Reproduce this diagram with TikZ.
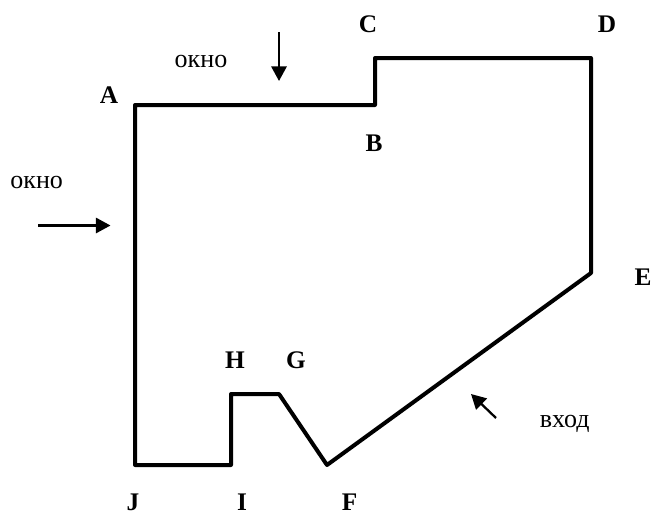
\documentclass[tikz,border=0pt]{standalone}
\usepackage{fontspec}
\setmainfont{Liberation Serif}
\usetikzlibrary{arrows.meta}
\tikzset{
 wall/.style={line width=3pt,line join=round,line cap=round},
 pt/.style={font=\bfseries\fontsize{19}{22}\selectfont,inner sep=0pt,anchor=base},
 lab/.style={font=\fontsize{19.5}{22}\selectfont,inner sep=0pt,anchor=base},
 arr/.style={line width=1.7pt,-{Triangle[length=11pt,width=11.5pt]}}
}
\begin{document}
\begin{tikzpicture}[x=0.75pt,y=-0.75pt]
\useasboundingbox (0,0) rectangle (654,514);
\coordinate (pA) at (135,105);
\coordinate (pB) at (375,105);
\coordinate (pC) at (375,58);
\coordinate (pD) at (591,58);
\coordinate (pE) at (591,273);
\coordinate (pF) at (327,465);
\coordinate (pG) at (279,394);
\coordinate (pH) at (231,394);
\coordinate (pI) at (231,465);
\coordinate (pJ) at (135,465);
\draw[wall] (pA)--(pB)--(pC)--(pD)--(pE)--(pF)--(pG)--(pH)--(pI)--(pJ)--cycle;
\node[pt] (A) at (109,103) {A};
\node[pt] (B) at (374,151) {B};
\node[pt] (C) at (368,32.5) {C};
\node[pt] (D) at (607,32.5) {D};
\node[pt] (E) at (643,285) {E};
\node[pt] (F) at (349.5,510) {F};
\node[pt] (G) at (296,368.5) {G};
\node[pt] (H) at (235,368.5) {H};
\node[pt] (I) at (242,510) {I};
\node[pt] (J) at (133,510) {J};
\node[lab] (w1) at (201,67.5) {окно};
\node[lab] (w2) at (36.7,188.5) {окно};
\node[lab] (v) at (564.7,427) {вход};
\coordinate (a1s) at (279,32); \coordinate (a1e) at (279,81);
\coordinate (a2s) at (38,225.5); \coordinate (a2e) at (110.5,225.5);
\coordinate (a3s) at (496,418); \coordinate (a3e) at (471,394);
\draw[arr] (a1s)--(a1e);
\draw[arr] (a2s)--(a2e);
\draw[arr] (a3s)--(a3e);
\end{tikzpicture}
\end{document}
